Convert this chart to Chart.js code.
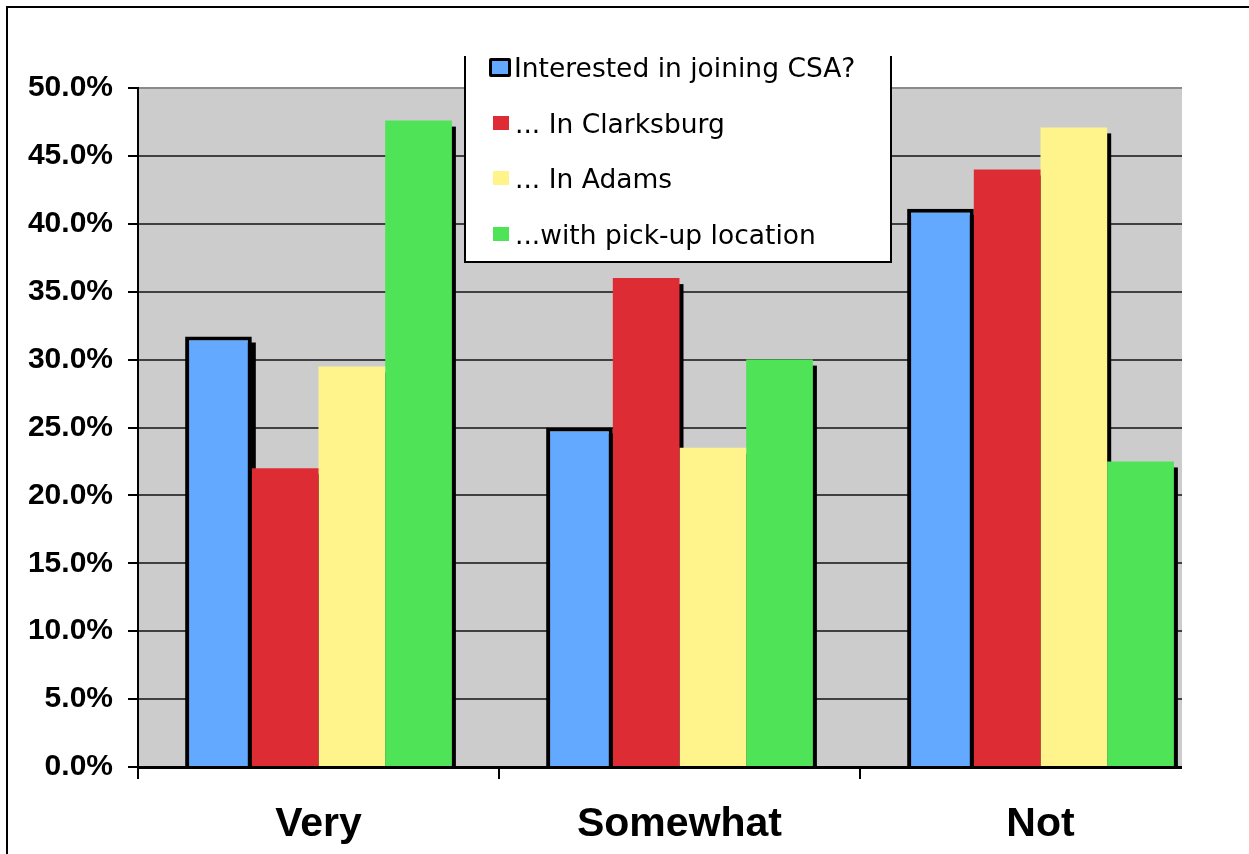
<!DOCTYPE html>
<html>
<head>
<meta charset="utf-8">
<title>Interest in joining a CSA</title>
<script src="https://cdn.jsdelivr.net/npm/chart.js@4.4.1/dist/chart.umd.min.js"></script>
<style>
  html, body { margin: 0; padding: 0; background: #fff; overflow: hidden; width: 1249px; height: 854px; }
  #clip { position: absolute; left: 0; top: 0; width: 1182px; height: 854px; overflow: hidden; }
  #wrap { position: absolute; left: 0; top: 0; width: 1240px; height: 854px; }
  #frame { position: absolute; left: 6px; top: 6px; width: 1300px; height: 900px;
           border-left: 2px solid #000; border-top: 2px solid #000; pointer-events: none; }
  #legend { position: absolute; left: 464px; top: 56px; width: 424px; height: 205px; background: #fff;
            border: 2px solid #000; border-top: none; font-family: "DejaVu Sans", sans-serif;
            font-size: 26.5px; color: #000; }
  .row { position: absolute; left: 0; height: 30px; display: flex; align-items: center; white-space: nowrap; }
  .mk { display: inline-block; box-sizing: border-box; }
</style>
</head>
<body>
<div id="clip"><div id="wrap"><canvas id="chart" width="1240" height="854"></canvas></div></div>
<div id="legend"></div>
<div id="frame"></div>
<script>
// Survey answers, share of respondents (%)
const categories = ['Very', 'Somewhat', 'Not'];
const seriesNames = ['Interested in joining CSA?', '... In Clarksburg', '... In Adams', '...with pick-up location'];
const interested = [31.7, 25.0, 41.1];
const inClarksburg = [22.0, 36.0, 44.0];
const inAdams = [29.5, 23.5, 47.1];
const withPickup = [47.6, 30.0, 22.5];
const yTickLabels = ['0.0%', '5.0%', '10.0%', '15.0%', '20.0%', '25.0%', '30.0%', '35.0%', '40.0%', '45.0%', '50.0%'];

const seriesColors = ['#63a9ff', '#dd2c34', '#fff38c', '#4fe358'];
const seriesValues = [interested, inClarksburg, inAdams, withPickup];

// grey plot area
const plotBackground = {
  id: 'plotBackground',
  beforeDraw(chart) {
    const { ctx, chartArea: a } = chart;
    ctx.save();
    ctx.fillStyle = '#cccccc';
    ctx.fillRect(a.left, a.top, a.right - a.left, a.bottom - a.top);
    ctx.restore();
  }
};

// black drop shadow behind every bar
const barShadow = {
  id: 'barShadow',
  beforeDatasetsDraw(chart) {
    const { ctx, chartArea: a } = chart;
    ctx.save();
    ctx.beginPath();
    ctx.rect(a.left, a.top, a.right - a.left, a.bottom - a.top);
    ctx.clip();
    ctx.fillStyle = '#000';
    chart.data.datasets.forEach((d, i) => {
      chart.getDatasetMeta(i).data.forEach(bar => {
        const { x, y, base, width } = bar.getProps(['x', 'y', 'base', 'width'], true);
        ctx.fillRect(x - width / 2 + 4, y + 6, width, base - y);
      });
    });
    ctx.restore();
  }
};

const datasets = seriesNames.map((name, i) => ({
  label: name,
  data: seriesValues[i],
  backgroundColor: seriesColors[i],
  borderColor: '#000',
  borderWidth: i === 0 ? 4 : 0,
  barPercentage: 1.0,
  categoryPercentage: 0.739
}));

new Chart(document.getElementById('chart'), {
  type: 'bar',
  data: { labels: categories, datasets },
  plugins: [plotBackground, barShadow],
  options: {
    responsive: false,
    animation: false,
    layout: { padding: { top: 88, right: 19, left: 0, bottom: 0 } },
    plugins: { legend: { display: false }, tooltip: { enabled: false } },
    scales: {
      x: {
        z: 1,
        afterFit(scale) { scale.height = 87; },
        grid: { drawOnChartArea: false, offset: true, tickLength: 12, tickColor: '#000', lineWidth: 2, color: '#000' },
        border: { display: true, color: '#000', width: 3 },
        ticks: {
          color: '#000', padding: 21, maxRotation: 0, autoSkip: false,
          font: { family: 'Liberation Sans', weight: 'bold', size: 41 }
        }
      },
      y: {
        min: 0, max: 50,
        afterFit(scale) { scale.width = 138; },
        grid: {
          color: ctx => (ctx.tick && ctx.tick.value === 50) ? '#8a8a8a' : '#404040',
          lineWidth: 2, tickLength: 10, tickColor: '#000'
        },
        border: { display: true, color: '#000', width: 2 },
        ticks: {
          stepSize: 5, color: '#000', padding: 15,
          font: { family: 'Liberation Sans', weight: 'bold', size: 30 },
          callback: (v, idx) => yTickLabels[idx]
        }
      }
    }
  }
});

// legend box
const legend = document.getElementById('legend');
const rowCenters = [11, 67, 122, 178];
seriesNames.forEach((name, i) => {
  const row = document.createElement('div');
  row.className = 'row';
  row.style.top = (rowCenters[i] - 15) + 'px';
  const mk = document.createElement('span');
  mk.className = 'mk';
  mk.style.background = seriesColors[i];
  if (i === 0) {
    mk.style.marginLeft = '23px'; mk.style.width = '22px'; mk.style.height = '19px';
    mk.style.border = '3px solid #000'; mk.style.borderRadius = '2px';
  } else {
    mk.style.marginLeft = '27px'; mk.style.width = '16px'; mk.style.height = '14px';
  }
  const txt = document.createElement('span');
  txt.textContent = name;
  txt.style.marginLeft = i === 0 ? '3px' : '6px';
  row.appendChild(mk);
  row.appendChild(txt);
  legend.appendChild(row);
});
</script>
</body>
</html>
